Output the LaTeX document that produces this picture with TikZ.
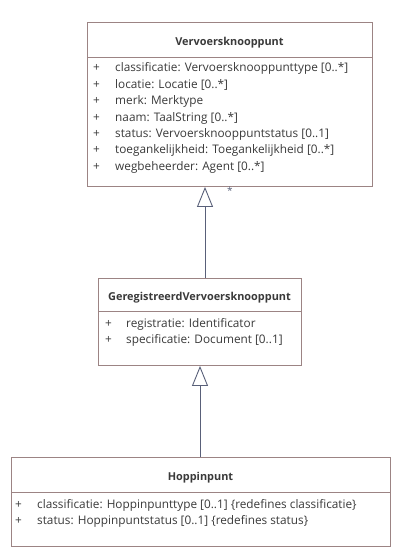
\documentclass[tikz,border=0pt]{standalone}
\usepackage{fontspec}
\setmainfont{Open Sans}
\usetikzlibrary{arrows.meta}
\definecolor{klasrand}{HTML}{9C8484}
\definecolor{klastekst}{HTML}{3A3A3A}
\definecolor{pijl}{HTML}{596079}
\tikzset{
  klasse/.style={draw=klasrand, fill=white, line width=0.9pt, inner sep=0pt, anchor=north west},
  scheiding/.style={draw=klasrand, line width=0.9pt},
  kop/.style={font=\fontsize{10.9}{12}\selectfont\bfseries, text=klastekst, inner sep=0pt, text height=8.5pt, text depth=2.5pt},
  attr/.style={font=\fontsize{11.8}{13}\selectfont, text=klastekst, anchor=west, inner sep=0pt, text height=8.5pt, text depth=2.5pt},
  gen/.style={draw=pijl, line width=0.9pt, -{Triangle[fill=white, width=16pt, length=20pt]}}
}
\begin{document}
\begin{tikzpicture}[x=1pt, y=-1pt]
  \useasboundingbox (0,0) rectangle (407,554);
  % klassen
  \node[klasse, minimum width=285pt, minimum height=164pt] (knooppunt) at (87,22) {};
  \node[klasse, minimum width=203pt, minimum height=87pt] (geregistreerd) at (98,278) {};
  \node[klasse, minimum width=379pt, minimum height=89pt] (hoppin) at (11,457) {};
  \draw[scheiding] (87,57) -- (372,57);
  \draw[scheiding] (98,311) -- (301,311);
  \draw[scheiding] (11,492) -- (390,492);
  \path
    (229.5,42) node[kop] (knooppuntkop) {Vervoersknooppunt}
    (199.5,297) node[kop] (geregistreerdkop) {GeregistreerdVervoersknooppunt}
    (200.5,477) node[kop] (hoppinkop) {Hoppinpunt};
  % attributen
  \path
    (93,68) node[attr] {+}   (115,68) node[attr] (k1) {classificatie: Vervoersknooppunttype [0..*]}
    (93,85) node[attr] {+}   (115,85) node[attr] (k2) {locatie: Locatie [0..*]}
    (93,101) node[attr] {+}  (115,101) node[attr] (k3) {merk: Merktype}
    (93,118) node[attr] {+}  (115,118) node[attr] (k4) {naam: TaalString [0..*]}
    (93,134) node[attr] {+}  (115,134) node[attr] (k5) {status: Vervoersknooppuntstatus [0..1]}
    (93,150) node[attr] {+}  (115,150) node[attr] (k6) {toegankelijkheid: Toegankelijkheid [0..*]}
    (93,167) node[attr] {+}  (115,167) node[attr] (k7) {wegbeheerder: Agent [0..*]};
  \path
    (105,324) node[attr] {+}  (126,324) node[attr] (g1) {registratie: Identificator}
    (105,340) node[attr] {+}  (126,340) node[attr] (g2) {specificatie: Document [0..1]};
  \path
    (15,505) node[attr] {+}  (37,505) node[attr] (h1) {classificatie: Hoppinpunttype [0..1] \{redefines classificatie\}}
    (15,521) node[attr] {+}  (37,521) node[attr] (h2) {status: Hoppinpuntstatus [0..1] \{redefines status\}};
  % generalisaties
  \coordinate (boven1) at (205,0);
  \coordinate (boven2) at (200,0);
  \draw[gen] (geregistreerd.north -| boven1) -- (knooppunt.south -| boven1);
  \draw[gen] (hoppin.north -| boven2) -- (geregistreerd.south -| boven2);
  \node[text=pijl, font=\fontsize{10}{10}\selectfont, inner sep=0pt] (ster) at (230,191) {*};
\end{tikzpicture}
\end{document}
